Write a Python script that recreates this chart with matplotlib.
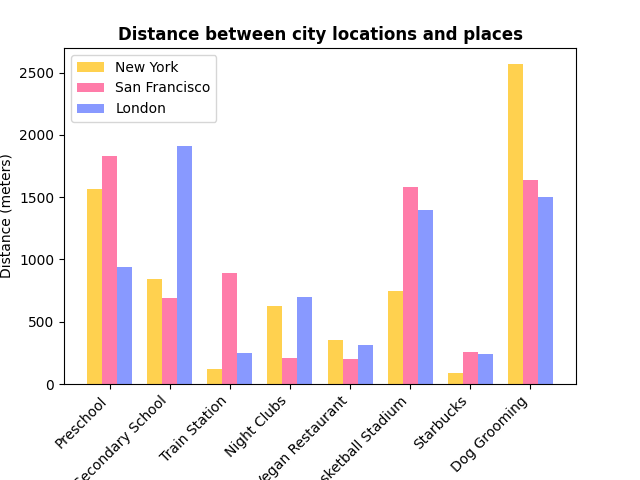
import matplotlib
matplotlib.use("Agg")
import matplotlib.pyplot as plt
import numpy as np

places = ["Preschool", "Secondary School", "Train Station", "Night Clubs",
          "Vegan Restaurant", "Basketball Stadium", "Starbucks", "Dog Grooming"]
new_york = [1566, 843, 120, 626, 353, 747, 88, 2570]
san_francisco = [1831, 690, 891, 209, 201, 1582, 257, 1638]
london = [940, 1911, 249, 698, 313, 1397, 241, 1502]

x = np.arange(len(places))
w = 0.25

fig, ax = plt.subplots(figsize=(6.4, 4.8), dpi=100)
ax.bar(x - w, new_york, w, color="#FFD14F", label="New York")
ax.bar(x, san_francisco, w, color="#FF7CA9", label="San Francisco")
ax.bar(x + w, london, w, color="#8899FF", label="London")

ax.set_xticks(x)
ax.set_xticklabels(places, rotation=45, ha="right")
ax.set_ylabel("Distance (meters)")
ax.set_title("Distance between city locations and places", fontweight="bold")
ax.legend(loc="upper left")

fig.subplots_adjust(left=0.1, right=0.9, top=0.9, bottom=0.2)
fig.savefig("out.png")
